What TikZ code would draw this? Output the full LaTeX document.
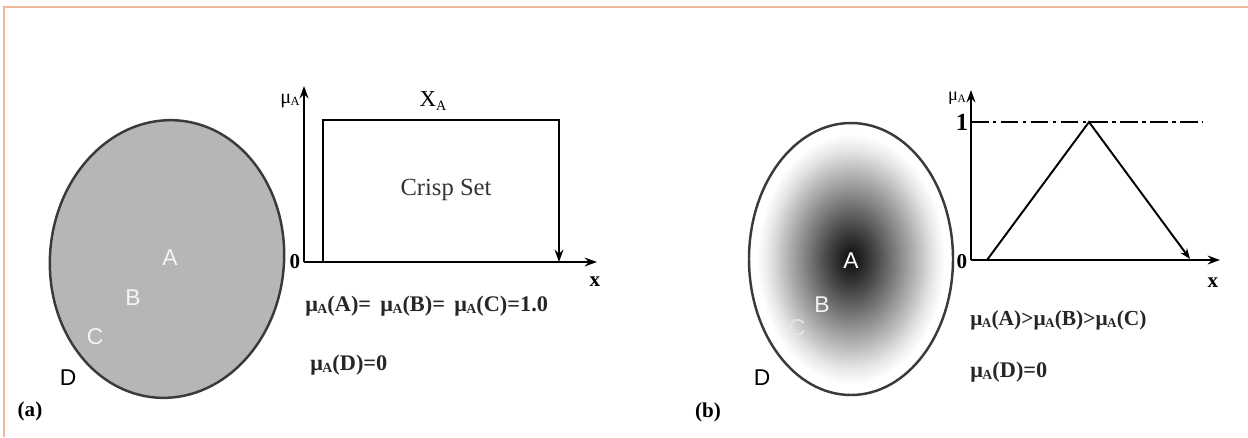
\documentclass[tikz,border=0pt]{standalone}
\usepackage{fontspec}
\setmainfont{Liberation Serif}
\newfontfamily\lsans{Liberation Sans}
\usetikzlibrary{arrows.meta}
\definecolor{framec}{HTML}{EDB99A}
\definecolor{crispgray}{HTML}{B6B6B6}
\definecolor{rimc}{HTML}{3A3A3A}
\pgfdeclareradialshading{fuzzyset}{\pgfpoint{0bp}{0bp}}{%
  color(0bp)=(black!93);
  color(2bp)=(black!88);
  color(6bp)=(black!72);
  color(11bp)=(black!50);
  color(16bp)=(black!28);
  color(20bp)=(black!10);
  color(23bp)=(white);
  color(50bp)=(white)}
\newcommand{\mA}{μ\kern-0.3pt\raisebox{-0.25ex}{\scalebox{0.62}{A}}}
\tikzset{
  axis/.style={line width=1.1pt, -{Stealth[length=7pt,width=5pt]}},
  curve/.style={line width=1.1pt},
  setrim/.style={line width=1.4pt, draw=rimc},
  elt/.style={font=\lsans\fontsize{13}{13}\selectfont, inner sep=0pt},
  formula/.style={font=\bfseries\fontsize{12.7}{13}\selectfont, anchor=west, inner sep=0pt, text=black!85},
  ticklab/.style={font=\bfseries\fontsize{12}{12}\selectfont, inner sep=0pt},
  axlab/.style={font=\fontsize{11.5}{12}\selectfont, inner sep=0pt},
  panel/.style={font=\bfseries\fontsize{12}{12}\selectfont, inner sep=0pt}
}
\begin{document}
\begin{tikzpicture}[x=0.02cm,y=-0.02cm]
\useasboundingbox (0,0) rectangle (1248,437);
% frame
\coordinate (fa) at (4,437);
\coordinate (fb) at (4,7);
\coordinate (fc) at (1248,7);
\draw[framec, line width=1.4pt] (fa) -- (fb) -- (fc);

% ---------- panel (a) ----------
\draw[setrim, fill=crispgray, rotate around={-5:(167,259)}] (167,259) ellipse [x radius=117, y radius=139];
\node[elt, text=white!92!gray] (a1) at (170,258) {A};
\node[elt, text=white!92!gray] (b1) at (133,298) {B};
\node[elt, text=white!92!gray] (c1) at (95,337) {C};
\node[elt] (d1) at (68,378) {D};
\node[panel] (pa) at (30,411) {(a)};

\coordinate (oa) at (304,262);
\coordinate (ya) at (304,86);
\coordinate (xa) at (597,262);
\draw[axis] (oa) -- (ya);
\draw[axis] (oa) -- (xa);
\coordinate (r1) at (323,262);
\coordinate (r2) at (323,120);
\coordinate (r3) at (559,120);
\coordinate (r4) at (559,262);
\draw[curve, -{Stealth[length=7pt,width=5pt]}] (r1) -- (r2) -- (r3) -- (r4);
\node[axlab] (mua) at (290,101) {\mA};
\node[ticklab] (za) at (295,262) {0};
\node[ticklab] (xla) at (595,282) {x};
\node[font=\fontsize{13}{13}\selectfont, inner sep=0pt] (xA) at (433,101) {X\raisebox{-0.3ex}{\scalebox{0.62}{A}}};
\node[font=\fontsize{14}{14}\selectfont, inner sep=0pt, text=black!80] (cs) at (446,190) {Crisp Set};
\node[formula] (fa1) at (305,306) {\mA(A)=\, \mA(B)=\, \mA(C)=1.0};
\node[formula] (fa2) at (310,365) {\mA(D)=0};

% ---------- panel (b) ----------
\shade[shading=fuzzyset] (851,259) ellipse [x radius=102, y radius=136];
\draw[setrim] (851,259) ellipse [x radius=102, y radius=136];
\node[elt, text=white] (a2) at (851,261) {A};
\node[elt, text=white!90!gray] (b2) at (822,305) {B};
\node[elt, text=white!80!gray] (c2) at (797,328) {C};
\node[elt] (d2) at (762,378) {D};
\node[panel] (pb) at (708,412) {(b)};

\coordinate (ob) at (971,260);
\coordinate (yb) at (971,90);
\coordinate (xb) at (1220,260);
\draw[axis] (ob) -- (yb);
\draw[axis] (ob) -- (xb);
\coordinate (h1) at (971,122);
\coordinate (h2) at (1203,122);
\draw[line width=1.1pt, dash pattern=on 10pt off 2.5pt on 2pt off 2.5pt] (h1) -- (h2);
\coordinate (t1) at (987,260);
\coordinate (t2) at (1089,122);
\coordinate (t3) at (1190,259);
\draw[curve, -{Stealth[length=6pt,width=4.5pt]}] (t1) -- (t2) -- (t3);
\node[axlab, font=\fontsize{10.5}{11}\selectfont] (mub) at (957,98) {\mA};
\node[ticklab, font=\bfseries\fontsize{14}{14}\selectfont] (oneb) at (962,122) {1};
\node[ticklab] (zb) at (962,262) {0};
\node[ticklab] (xlb) at (1213,283) {x};
\node[formula, font=\bfseries\fontsize{12.2}{13}\selectfont] (fb1) at (970,320) {\mA(A)>\mA(B)>\mA(C)};
\node[formula] (fb2) at (970,372) {\mA(D)=0};
\end{tikzpicture}
\end{document}
